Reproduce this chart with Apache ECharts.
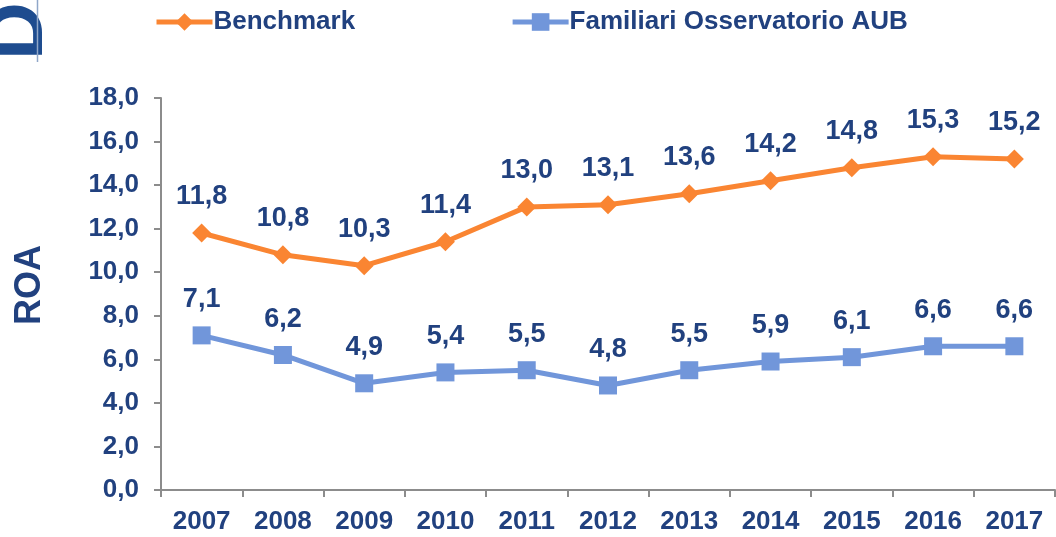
<!DOCTYPE html>
<html>
<head>
<meta charset="utf-8">
<script src="https://cdn.jsdelivr.net/npm/echarts@6/dist/echarts.min.js"></script>
<style>
  html, body { margin: 0; padding: 0; background: #fff; }
  #chart { width: 1056px; height: 537px; }
</style>
</head>
<body>
<div id="chart"></div>
<script>
// dati
const years = ['2007', '2008', '2009', '2010', '2011', '2012', '2013', '2014', '2015', '2016', '2017']
const benchmark = [11.8, 10.8, 10.3, 11.4, 13.0, 13.1, 13.6, 14.2, 14.8, 15.3, 15.2]
const familiari = [7.1, 6.2, 4.9, 5.4, 5.5, 4.8, 5.5, 5.9, 6.1, 6.6, 6.6]

const navy = '#21417F'
const orange = '#FA8532'
const blue = '#7196DA'
const fmt = v => v.toFixed(1).replace('.', ',')

const myChart = echarts.init(document.getElementById('chart'))

const labelStyle = {
  show: true,
  position: 'top',
  distance: 13,
  color: navy,
  fontFamily: 'Liberation Sans',
  fontWeight: 'bold',
  fontSize: 27,
  formatter: p => fmt(p.value)
}

const option = {
  animation: false,
  legend: {
    top: 4,
    left: 149,
    itemGap: 155,
    itemWidth: 56,
    itemHeight: 22,
    lineStyle: { width: 5 },
    textStyle: { color: navy, fontFamily: 'Liberation Sans', fontWeight: 'bold', fontSize: 26, padding: [0, 0, 0, -4] },
    data: ['Benchmark', 'Familiari Osservatorio AUB']
  },
  graphic: [
    {
      // logo tagliato in alto a sinistra
      type: 'text',
      x: -20, y: 60,
      rotation: Math.PI / 2,
      style: { text: 'D', fill: '#1E4C8F', font: 'bold 80px "Liberation Sans"' }
    },
    {
      type: 'line',
      shape: { x1: 37.5, y1: 0, x2: 37.5, y2: 62 },
      style: { stroke: '#8FA6C8', lineWidth: 1.5 }
    },
    {
      type: 'text',
      x: 30, y: 285,
      rotation: Math.PI / 2,
      style: { text: 'ROA', fill: navy, font: 'bold 36px "Liberation Sans"', align: 'center', verticalAlign: 'middle' }
    }
  ],
  grid: { left: 161, right: 1, top: 98, bottom: 47, containLabel: false },
  xAxis: {
    type: 'category',
    data: years,
    boundaryGap: true,
    axisLine: { lineStyle: { color: '#8C8C8C', width: 2 } },
    axisTick: { show: true, length: 7, lineStyle: { color: '#8C8C8C', width: 2 } },
    axisLabel: { color: navy, fontFamily: 'Liberation Sans', fontWeight: 'bold', fontSize: 26, margin: 19 }
  },
  yAxis: {
    type: 'value',
    min: 0, max: 18, interval: 2,
    splitLine: { show: false },
    axisLine: { show: true, lineStyle: { color: '#8C8C8C', width: 2 } },
    axisTick: { show: true, length: 7, lineStyle: { color: '#8C8C8C', width: 2 } },
    axisLabel: { color: navy, fontFamily: 'Liberation Sans', fontWeight: 'bold', fontSize: 26, margin: 22, formatter: v => fmt(v) }
  },
  series: [
    {
      name: 'Benchmark',
      type: 'line',
      data: benchmark,
      symbol: 'diamond',
      symbolSize: 19,
      color: orange,
      lineStyle: { width: 5, color: orange },
      itemStyle: { color: orange },
      label: labelStyle
    },
    {
      name: 'Familiari Osservatorio AUB',
      type: 'line',
      data: familiari,
      symbol: 'rect',
      symbolSize: 18,
      color: blue,
      lineStyle: { width: 5, color: blue },
      itemStyle: { color: blue },
      label: labelStyle
    }
  ]
}

myChart.setOption(option)
</script>
</body>
</html>
